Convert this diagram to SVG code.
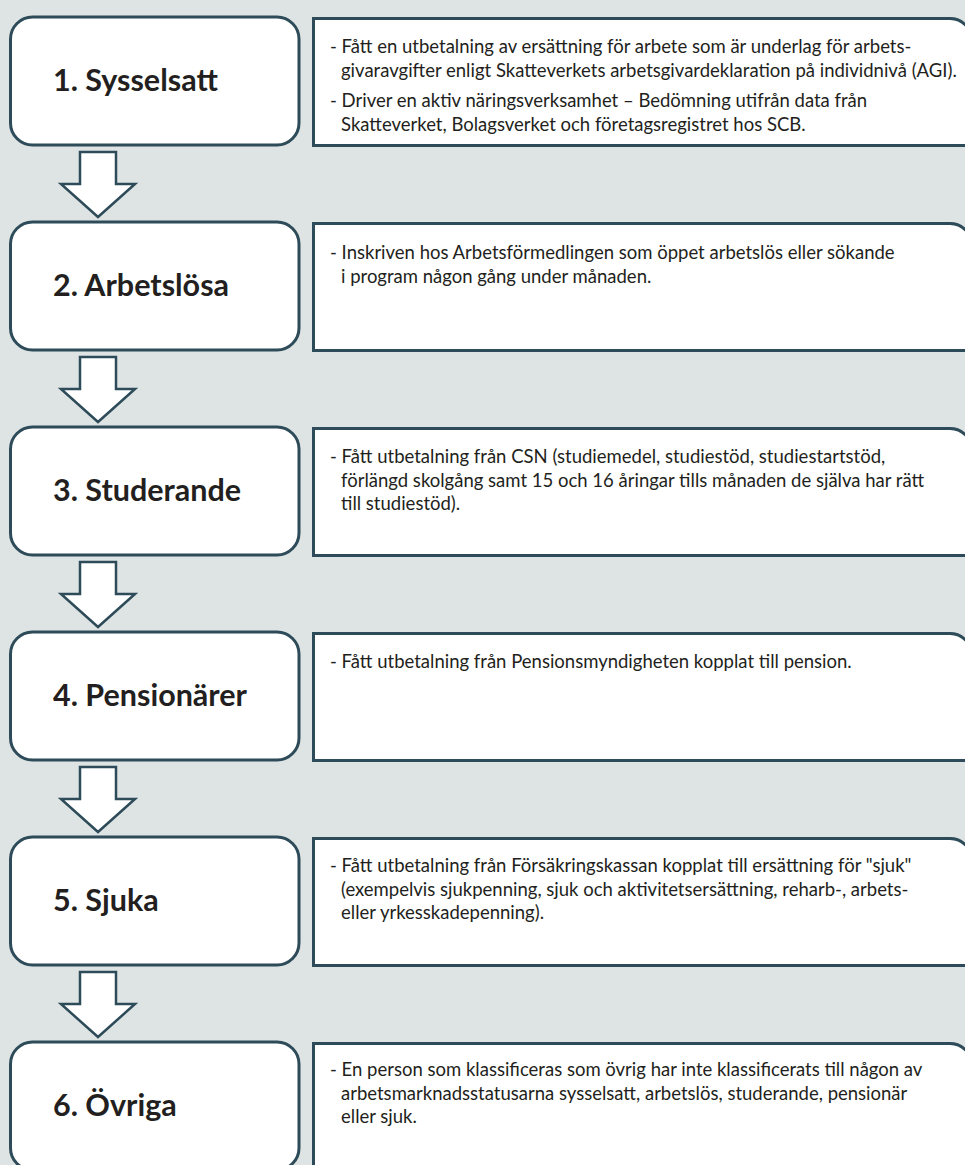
<svg xmlns="http://www.w3.org/2000/svg" width="965" height="1165" viewBox="0 0 965 1165">
<style>
.lbox{fill:#fff;stroke:#2d4b58;stroke-width:3}
.rbox{fill:#fff;stroke:#2d4b58;stroke-width:3}
.arrow{fill:#fff;stroke:#2d4b58;stroke-width:2.5;stroke-linejoin:miter}
.lbl{font-family:Lato,"Liberation Sans",sans-serif;font-weight:bold;font-size:30.5px;fill:#231f20}
.txt{font-family:Lato,"Liberation Sans",sans-serif;font-size:18.5px;fill:#231f20}
</style>
<rect width="965" height="1165" fill="#dee3e4"/>
<g id="connectors">
<path class="arrow" d="M80,152 V184 H61 L98,217 L135,184 H116 V152 Z"/>
<path class="arrow" d="M80,357 V389 H61 L98,422 L135,389 H116 V357 Z"/>
<path class="arrow" d="M80,562 V594 H61 L98,627 L135,594 H116 V562 Z"/>
<path class="arrow" d="M80,767 V799 H61 L98,832 L135,799 H116 V767 Z"/>
<path class="arrow" d="M80,972 V1004 H61 L98,1037 L135,1004 H116 V972 Z"/>
</g>
<g id="node1">
<rect class="lbox" x="10.5" y="17" width="288.5" height="128" rx="22"/>
<text class="lbl" x="53" y="91">1. Sysselsatt</text>
<path class="rbox" d="M313.5,18.5 H950 A22,22 0 0 1 972,40.5 V145.5 H313.5 Z"/>
<text class="txt" x="330" y="53">- Fått en utbetalning av ersättning för arbete som är underlag för arbets-</text>
<text class="txt" x="341" y="77">givaravgifter enligt Skatteverkets arbetsgivardeklaration på individnivå (AGI).</text>
<text class="txt" x="330" y="107">- Driver en aktiv näringsverksamhet – Bedömning utifrån data från</text>
<text class="txt" x="341" y="131">Skatteverket, Bolagsverket och företagsregistret hos SCB.</text>
</g>
<g id="node2">
<rect class="lbox" x="10.5" y="222" width="288.5" height="128" rx="22"/>
<text class="lbl" x="53" y="296">2. Arbetslösa</text>
<path class="rbox" d="M313.5,223.5 H950 A22,22 0 0 1 972,245.5 V350.5 H313.5 Z"/>
<text class="txt" x="330" y="259">- Inskriven hos Arbetsförmedlingen som öppet arbetslös eller sökande</text>
<text class="txt" x="341" y="282.5">i program någon gång under månaden.</text>
</g>
<g id="node3">
<rect class="lbox" x="10.5" y="427" width="288.5" height="128" rx="22"/>
<text class="lbl" x="53" y="501">3. Studerande</text>
<path class="rbox" d="M313.5,428.5 H950 A22,22 0 0 1 972,450.5 V555.5 H313.5 Z"/>
<text class="txt" x="330" y="463">- Fått utbetalning från CSN (studiemedel, studiestöd, studiestartstöd,</text>
<text class="txt" x="341" y="486.5">förlängd skolgång samt 15 och 16 åringar tills månaden de själva har rätt</text>
<text class="txt" x="341" y="510">till studiestöd).</text>
</g>
<g id="node4">
<rect class="lbox" x="10.5" y="632" width="288.5" height="128" rx="22"/>
<text class="lbl" x="53" y="706">4. Pensionärer</text>
<path class="rbox" d="M313.5,633.5 H950 A22,22 0 0 1 972,655.5 V760.5 H313.5 Z"/>
<text class="txt" x="330" y="668">- Fått utbetalning från Pensionsmyndigheten kopplat till pension.</text>
</g>
<g id="node5">
<rect class="lbox" x="10.5" y="837" width="288.5" height="128" rx="22"/>
<text class="lbl" x="53" y="911">5. Sjuka</text>
<path class="rbox" d="M313.5,838.5 H950 A22,22 0 0 1 972,860.5 V965.5 H313.5 Z"/>
<text class="txt" x="330" y="872">- Fått utbetalning från Försäkringskassan kopplat till ersättning för "sjuk"</text>
<text class="txt" x="341" y="895.5">(exempelvis sjukpenning, sjuk och aktivitetsersättning, reharb-, arbets-</text>
<text class="txt" x="341" y="919">eller yrkesskadepenning).</text>
</g>
<g id="node6">
<rect class="lbox" x="10.5" y="1042" width="288.5" height="128" rx="22"/>
<text class="lbl" x="53" y="1116">6. Övriga</text>
<path class="rbox" d="M313.5,1043.5 H950 A22,22 0 0 1 972,1065.5 V1170.5 H313.5 Z"/>
<text class="txt" x="330" y="1076">- En person som klassificeras som övrig har inte klassificerats till någon av</text>
<text class="txt" x="341" y="1099.5">arbetsmarknadsstatusarna sysselsatt, arbetslös, studerande, pensionär</text>
<text class="txt" x="341" y="1123">eller sjuk.</text>
</g>
</svg>
